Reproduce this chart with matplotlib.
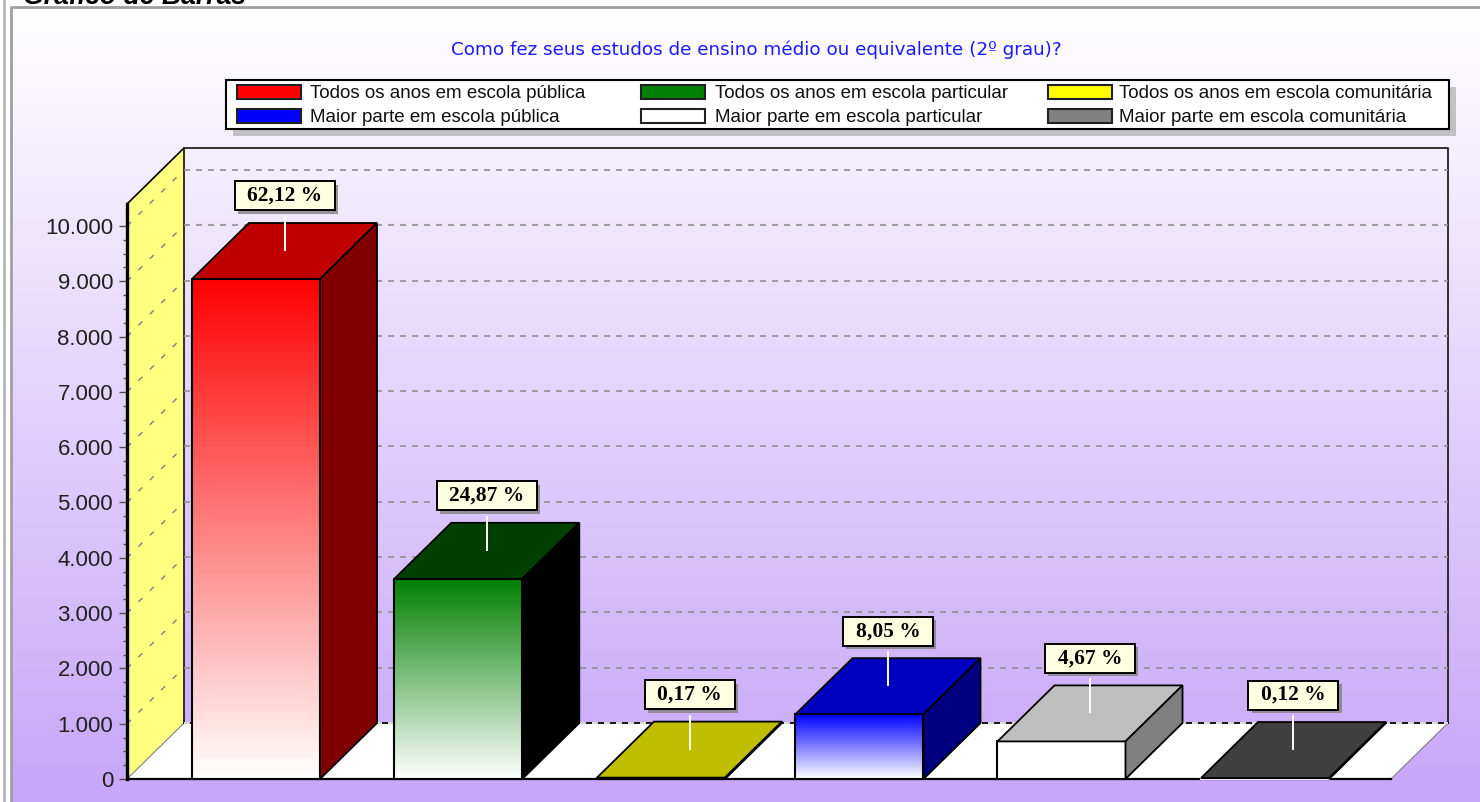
import numpy as np
import matplotlib
matplotlib.use("Agg")
import matplotlib.pyplot as plt
import matplotlib.patheffects as pe
from matplotlib.colors import to_rgb
from matplotlib.patches import Polygon, Rectangle

W, H = 1480, 802

# data
categories = ["Todos os anos em escola pública", "Todos os anos em escola particular",
              "Todos os anos em escola comunitária", "Maior parte em escola pública",
              "Maior parte em escola particular", "Maior parte em escola comunitária"]
values = [9042, 3620, 25, 1172, 680, 17]
percents = ["62,12 %", "24,87 %", "0,17 %", "8,05 %", "4,67 %", "0,12 %"]
title = "Como fez seus estudos de ensino médio ou equivalente (2º grau)?"
heading = "Gráfico de Barras"
ticks = list(range(0, 11000, 1000))

# colours
front_colors = ["#ff0000", "#008000", "#ffff00", "#0000ff", "#ffffff", "#808080"]
top_colors = ["#bf0000", "#004000", "#bfbf00", "#0000bf", "#bfbfbf", "#404040"]
side_colors = ["#800000", "#000000", "#808000", "#000080", "#808080", "#000000"]
front_edges = ["black", "black", "black", "black", "black", "#ece4fa"]
legend_colors = ["#ff0000", "#008000", "#ffff00", "#0000ff", "#ffffff", "#808080"]

plt.rcParams['font.family'] = ['Liberation Sans', 'DejaVu Sans']

fig = plt.figure(figsize=(W / 100, H / 100), dpi=100, facecolor="white")

# pixel axes for the window frame, background and legend
bg = fig.add_axes([0, 0, 1, 1], zorder=0)
bg.set_xlim(0, W)
bg.set_ylim(H, 0)
bg.axis("off")

top_col = np.array([1.0, 1.0, 1.0])
bot_col = np.array(to_rgb("#c6a6f8"))
t = np.linspace(0, 1, 256)[:, None, None]
grad = top_col[None, None, :] * (1 - t) + bot_col[None, None, :] * t
bg.imshow(grad, extent=[11, W, H, 8], aspect="auto", zorder=0)
bg.set_xlim(0, W)
bg.set_ylim(H, 0)
bg.plot([3.5, 3.5], [0, H], color="#b4b4b4", lw=2, zorder=1)
bg.plot([11, 11, W], [H, 7, 7], color="#a0a0a0", lw=2, zorder=1)
bg.text(23, -3, heading, fontsize=19.2, fontweight="bold", fontstyle="italic",
        va="center", ha="left", color="black")
bg.text(756, 50, title, fontsize=13.2, family=["DejaVu Sans"], color="#1a1aff", ha="center", va="center")

# main axes: front plane of the 3D chart
ax = fig.add_axes([127 / W, (H - 779) / H, (1391 - 127) / W, (779 - 204) / H], zorder=2)
ax.patch.set_alpha(0)
px_x = 1 / 202.3
px_y = 1000 / 55.3
xmin, xmax = (127 - 256) * px_x, (1391 - 256) * px_x
ymax = 575 * px_y
dx, dy = 57 * px_x, 56 * px_y
bar_w = 128 * px_x
wall_top = ymax
# slots are not quite even in the original
bar_x = [0, 1, (661 - 256) * px_x, (859.5 - 256) * px_x, (1061.5 - 256) * px_x, (1265 - 256) * px_x]

# side wall, floor, back wall outline
ax.add_patch(Polygon([(xmin, 0), (xmin + dx, dy), (xmin + dx, wall_top + dy), (xmin, wall_top)],
                     closed=True, fc="#ffff80", ec="none", zorder=1, clip_on=False))
ax.plot([xmin, xmin + dx], [wall_top, wall_top + dy], color="black", lw=1.2, zorder=2, clip_on=False)
ax.add_patch(Polygon([(xmin, 0), (xmin + dx, dy), (xmax + dx, dy), (xmax, 0)],
                     closed=True, fc="white", ec="#808080", lw=0.8, zorder=1, clip_on=False))
ax.plot([xmin + dx, xmin + dx, xmax + dx, xmax + dx], [dy, wall_top + dy, wall_top + dy, dy],
        color="#202020", lw=1.3, zorder=2, clip_on=False)
ax.plot([xmin, xmax], [0, 0], color="black", lw=1.6, zorder=2, clip_on=False)
ax.plot([xmin + dx, xmax + dx], [dy, dy], color="black", lw=1.2, zorder=2, clip_on=False)

# gridlines on both walls
for v in ticks[1:]:
    ax.plot([xmin, xmin + dx], [v, v + dy], color="#808080", lw=1.0, ls=(0, (4, 7.5)), zorder=3, clip_on=False)
for v in ticks:
    ax.plot([xmin + dx, xmax + dx], [v + dy, v + dy], color="#909090" if v else "white",
            lw=1.2, ls=(0, (3.6, 3.6)), zorder=3, clip_on=False)

# bars
for i, val in enumerate(values):
    left, right = bar_x[i] - bar_w / 2, bar_x[i] + bar_w / 2
    base = np.array(to_rgb(front_colors[i]))
    s = np.linspace(0, 1, 128)[:, None, None]
    face = base[None, None, :] * (1 - s) + s
    ax.imshow(face, extent=[left, right, 0, val], aspect="auto", zorder=5 + i, clip_on=False)
    ax.add_patch(Rectangle((left, 0), bar_w, val, fc="none", ec=front_edges[i], lw=1.5,
                           zorder=5 + i + 0.1, clip_on=False))
    ax.add_patch(Polygon([(left, val), (left + dx, val + dy), (right + dx, val + dy), (right, val)],
                         closed=True, fc=top_colors[i], ec="black", lw=1.3,
                         zorder=5 + i + 0.1, clip_on=False))
    ax.add_patch(Polygon([(right, 0), (right + dx, dy), (right + dx, val + dy), (right, val)],
                         closed=True, fc=side_colors[i], ec="black", lw=1.3,
                         zorder=5 + i + 0.1, clip_on=False))

    # percent labels with leader line
    xc = bar_x[i] + dx / 2
    ytop = val + dy
    ax.plot([xc, xc], [ytop + 6 * px_y, ytop - 27 * px_y], color="white", lw=1.4, zorder=20, clip_on=False)
    box_w = (30 + 10 * len(percents[i])) * px_x
    box_h = 29 * px_y
    yc = ytop + 27 * px_y
    ax.add_patch(Rectangle((xc - box_w / 2, yc - box_h / 2), box_w, box_h, fc="#ffffe1", ec="black", lw=1.4,
                           zorder=21, clip_on=False,
                           path_effects=[pe.SimplePatchShadow(offset=(2.5, -2.5), shadow_rgbFace="#808080", alpha=0.8),
                                         pe.Normal()]))
    ax.text(xc, yc, percents[i], fontsize=15.5, fontweight="bold", family=["Liberation Serif"],
            ha="center", va="center", zorder=22, clip_on=False)

ax.set_xlim(xmin, xmax)
ax.set_ylim(0, ymax)
ax.xaxis.set_visible(False)
for name in ["top", "right", "bottom"]:
    ax.spines[name].set_visible(False)
ax.spines["left"].set_linewidth(2.4)
ax.spines["left"].set_zorder(4)
ax.set_yticks(ticks)
ax.set_yticklabels([f"{v:,}".replace(",", ".") for v in ticks], fontsize=16, color="#202020")
ax.set_yticks(np.arange(0, 10250, 250), minor=True)
ax.tick_params(axis="y", which="major", length=5.5, width=1, color="#505050", pad=4.5)
ax.tick_params(axis="y", which="minor", length=3, width=1, color="#505050")

# legend, in the pixel axes so the columns land where they should
leg = fig.add_axes([0, 0, 1, 1], zorder=3)
leg.set_xlim(0, W)
leg.set_ylim(H, 0)
leg.axis("off")
leg.add_patch(Rectangle((226, 80), 1223, 49, fc="white", ec="black", lw=1.5,
                        path_effects=[pe.SimplePatchShadow(offset=(5, -5), shadow_rgbFace="#a0a0a0", alpha=0.6),
                                      pe.Normal()]))
col_x = [237, 641, 1048]
text_x = [310, 715, 1119]
row_y = [85, 109]
for j, name in enumerate(categories):
    cx = col_x[j % 3]
    ry = row_y[j // 3]
    leg.add_patch(Rectangle((cx, ry), 64, 14, fc=legend_colors[j], ec="#202020", lw=1.5))
    leg.text(text_x[j % 3], ry + 8, name, fontsize=13.5, color="#101010", ha="left", va="center")

fig.savefig("out.png", dpi=100)
